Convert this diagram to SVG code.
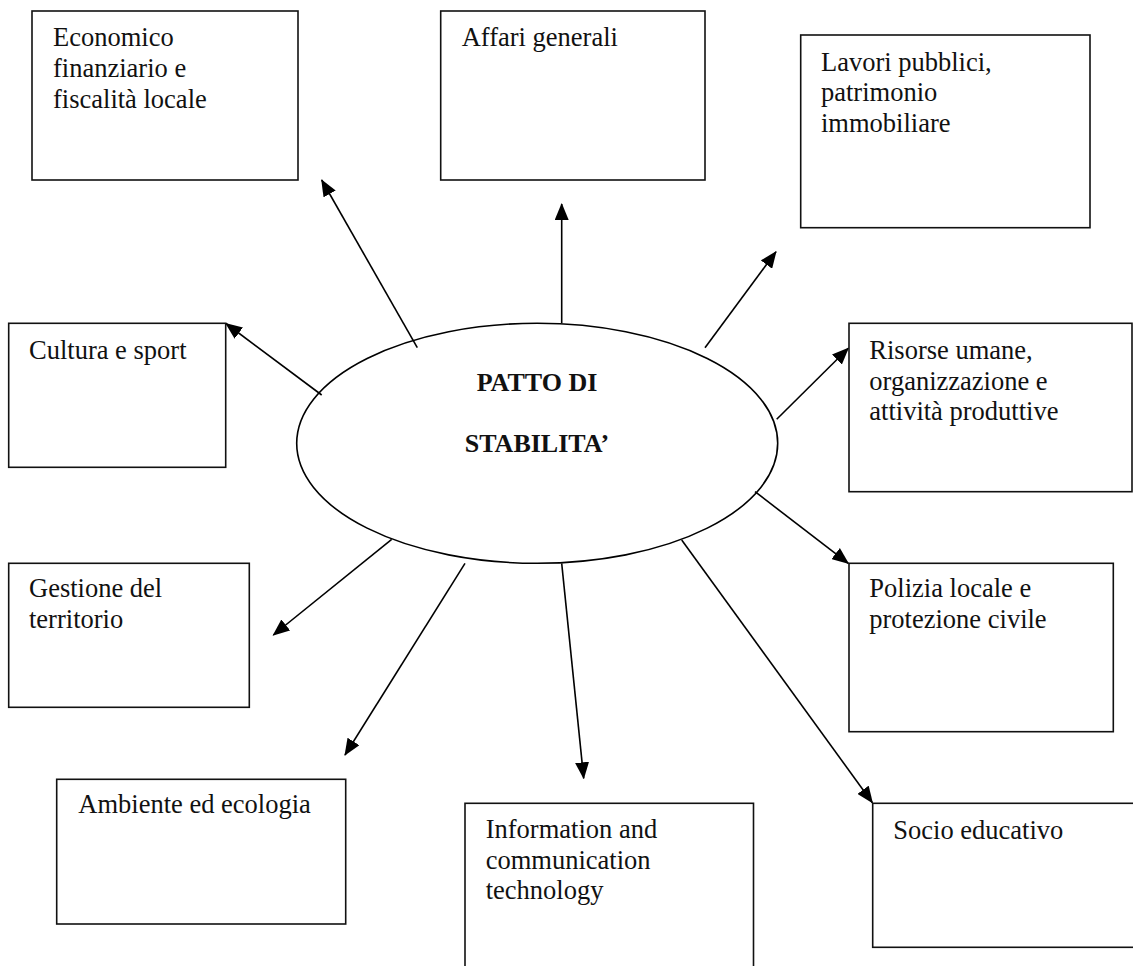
<svg xmlns="http://www.w3.org/2000/svg" width="1133" height="966" viewBox="0 0 1133 966">
<style>
.box{fill:#fff;stroke:#111;stroke-width:1.6}
.t{font-family:"Liberation Serif","Times New Roman",serif;font-size:26.5px;fill:#111}
.c{font-family:"Liberation Serif","Times New Roman",serif;font-size:26px;font-weight:bold;fill:#111;text-anchor:middle}
.ln{stroke:#000;stroke-width:1.6;fill:none;marker-end:url(#ah)}
</style>
<defs>
<marker id="ah" markerUnits="userSpaceOnUse" markerWidth="17" markerHeight="14" refX="16" refY="7" orient="auto">
<path d="M0,0 L17,7 L0,14 z" fill="#000"/>
</marker>
</defs>
<rect width="1133" height="966" fill="#fff"/>
<g id="connectors">
<line class="ln" x1="417.3" y1="347.7" x2="321.7" y2="180"/>
<line class="ln" x1="561.7" y1="323" x2="561.7" y2="204"/>
<line class="ln" x1="705" y1="347.7" x2="776" y2="251.7"/>
<line class="ln" x1="321.7" y1="395" x2="226" y2="323.5"/>
<line class="ln" x1="776.7" y1="419.3" x2="848.3" y2="348.3"/>
<line class="ln" x1="391.7" y1="539.3" x2="273.3" y2="635"/>
<line class="ln" x1="755" y1="491.7" x2="848.3" y2="563.3"/>
<line class="ln" x1="465" y1="563.3" x2="345" y2="755"/>
<line class="ln" x1="561.7" y1="563.3" x2="583.7" y2="778.3"/>
<line class="ln" x1="681.7" y1="540" x2="872.4" y2="802.7"/>
</g>
<g id="center">
<ellipse cx="537.2" cy="443.3" rx="240.5" ry="120" fill="none" stroke="#000" stroke-width="1.6"/>
<text class="c" x="537" y="390.7">PATTO DI</text>
<text class="c" x="537" y="452.3">STABILITA’</text>
</g>
<g id="economico">
<rect class="box" x="32" y="11" width="266" height="169"/>
<text class="t" x="53" y="45.5">Economico</text>
<text class="t" x="53" y="77">finanziario e</text>
<text class="t" x="53" y="108">fiscalità locale</text>
</g>
<g id="affari">
<rect class="box" x="440.7" y="11" width="264.3" height="169"/>
<text class="t" x="461.7" y="45.7">Affari generali</text>
</g>
<g id="lavori">
<rect class="box" x="800.7" y="35" width="289.3" height="192.7"/>
<text class="t" x="821" y="70.5">Lavori pubblici,</text>
<text class="t" x="821" y="101">patrimonio</text>
<text class="t" x="821" y="131.5">immobiliare</text>
</g>
<g id="cultura">
<rect class="box" x="8.7" y="323.3" width="217" height="144"/>
<text class="t" x="29" y="359">Cultura e sport</text>
</g>
<g id="gestione">
<rect class="box" x="8.7" y="563.3" width="240.6" height="144"/>
<text class="t" x="29" y="597">Gestione del</text>
<text class="t" x="29" y="628">territorio</text>
</g>
<g id="risorse">
<rect class="box" x="849" y="323.3" width="283" height="168.4"/>
<text class="t" x="869.3" y="359.3">Risorse umane,</text>
<text class="t" x="869.3" y="389.5">organizzazione e</text>
<text class="t" x="869.3" y="419.5">attività produttive</text>
</g>
<g id="polizia">
<rect class="box" x="849" y="563.3" width="264.3" height="168.4"/>
<text class="t" x="869.3" y="596.7">Polizia locale e</text>
<text class="t" x="869.3" y="627.5">protezione civile</text>
</g>
<g id="ambiente">
<rect class="box" x="56.7" y="779.3" width="289" height="144.7"/>
<text class="t" x="78.3" y="813.3">Ambiente ed ecologia</text>
</g>
<g id="ict">
<rect class="box" x="465" y="803.3" width="288.5" height="200"/>
<text class="t" x="485.7" y="837.7">Information and</text>
<text class="t" x="485.7" y="868.5">communication</text>
<text class="t" x="485.7" y="899">technology</text>
</g>
<g id="socio">
<rect class="box" x="872.7" y="803.3" width="300" height="144"/>
<text class="t" x="893.3" y="838.5">Socio educativo</text>
</g>
</svg>
